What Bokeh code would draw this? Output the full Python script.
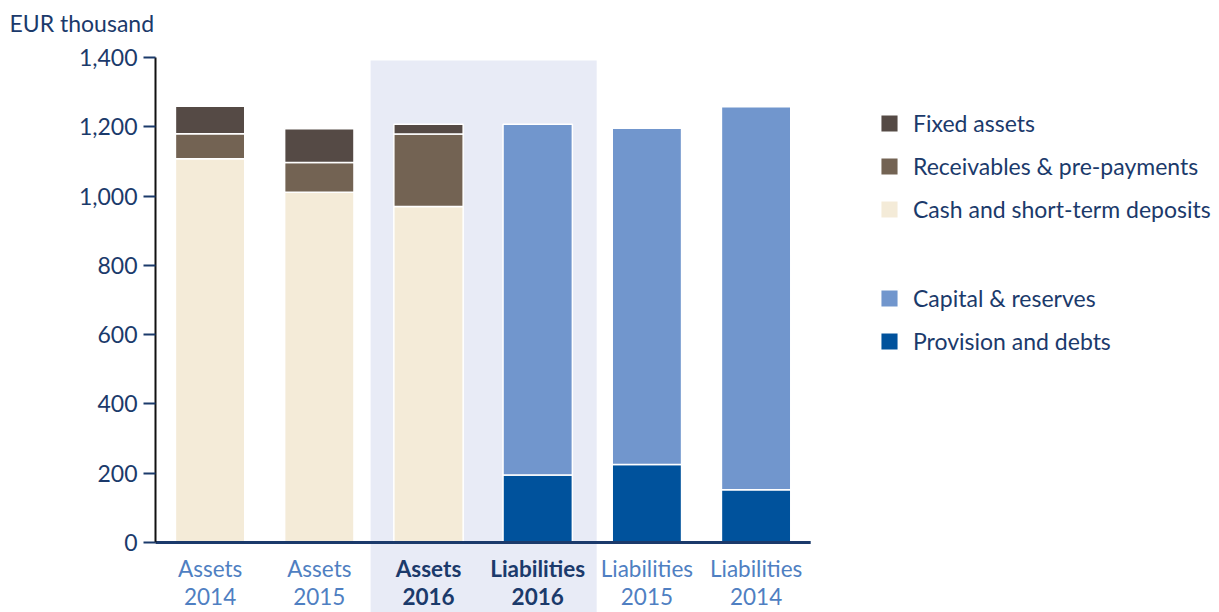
from bokeh.plotting import figure
from bokeh.models import (ColumnDataSource, LinearAxis, FixedTicker, BoxAnnotation,
                          Legend, LegendItem, Label, NumeralTickFormatter, Range1d)
from bokeh.embed import file_html
from bokeh.resources import INLINE
from bokeh.core.properties import value

# ---- data ----
groups = ["Assets", "Assets", "Assets", "Liabilities", "Liabilities", "Liabilities"]
years = ["2014", "2015", "2016", "2016", "2015", "2014"]
highlight = [False, False, True, True, False, False]

asset_pos = [0, 1, 2]
cash = [1108, 1011, 970]
receivables = [72, 86, 209]
fixed_assets = [79, 97, 28]

liab_pos = [3, 4, 5]
provision = [195, 225, 152]
capital = [1012, 971, 1106]

y_ticks = [0, 200, 400, 600, 800, 1000, 1200, 1400]

# ---- styling ----
NAVY = "#1b3a6b"
LIGHTBLUE = "#4f7fc2"
C_FIXED = "#554a45"
C_RECV = "#736353"
C_CASH = "#f4ebd8"
C_CAP = "#7196cd"
C_PROV = "#00529c"
BAND = "#e8ebf6"
FONT = "Lato"

W, H = 1219, 612
left_px, cat_px = 155.0, 109.2
zero_px, unit_px = 542.0, 485.0 / 1400.0

x_range = Range1d(-left_px / cat_px, (W - left_px) / cat_px)
y_range = Range1d(-(H - zero_px) / unit_px, zero_px / unit_px)

p = figure(width=W, height=H, x_range=x_range, y_range=y_range,
           x_axis_type=None, y_axis_type=None, output_backend="svg",
           toolbar_location=None, min_border=0, min_border_left=0,
           min_border_right=0, min_border_top=0, min_border_bottom=0)
p.outline_line_color = None
p.grid.visible = False
p.background_fill_color = "white"
p.border_fill_color = "white"

# highlight band
band = BoxAnnotation(left=1.97, right=4.04, top=1391, fill_color=BAND, fill_alpha=1,
                     line_color=None, level="underlay")
p.add_layout(band)

# bars
asrc = ColumnDataSource(dict(x=[i + 0.5 for i in asset_pos], cash=cash,
                             recv=receivables, fixed=fixed_assets))
lsrc = ColumnDataSource(dict(x=[i + 0.5 for i in liab_pos], prov=provision, cap=capital))

ar = p.vbar_stack(["cash", "recv", "fixed"], x="x", width=0.635, source=asrc,
                  color=[C_CASH, C_RECV, C_FIXED], line_color="white", line_width=1.5)
lr = p.vbar_stack(["prov", "cap"], x="x", width=0.635, source=lsrc,
                  color=[C_PROV, C_CAP], line_color="white", line_width=1.5)

# horizontal axis line
p.segment(x0=[0], y0=[0], x1=[6], y1=[0], line_color=NAVY, line_width=3)

# y axis
yaxis = LinearAxis(fixed_location=0, bounds=(0, 1400))
yaxis.ticker = FixedTicker(ticks=y_ticks)
yaxis.formatter = NumeralTickFormatter(format="0,0")
yaxis.axis_line_color = "#111111"
yaxis.axis_line_width = 2
yaxis.major_tick_line_color = NAVY
yaxis.major_tick_line_width = 2
yaxis.major_tick_out = 12
yaxis.major_tick_in = 0
yaxis.minor_tick_line_color = None
yaxis.major_label_text_color = NAVY
yaxis.major_label_text_font = FONT
yaxis.major_label_text_font_size = "23px"
yaxis.major_label_standoff = 6
p.add_layout(yaxis, "left")

# category labels
xs = [i + 0.5 for i in range(len(groups))]
colors = [NAVY if h else LIGHTBLUE for h in highlight]
styles = ["bold" if h else "normal" for h in highlight]
tsrc = ColumnDataSource(dict(x=xs, g=groups, yr=years, c=colors, s=styles))
p.text(x="x", y=-(568 - zero_px) / unit_px, text="g", source=tsrc, text_color="c",
       text_font_style="s", text_font=value(FONT), text_font_size="22.5px",
       text_align="center", text_baseline="middle")
p.text(x="x", y=-(596 - zero_px) / unit_px, text="yr", source=tsrc, text_color="c",
       text_font_style="s", text_font=value(FONT), text_font_size="22.5px",
       text_align="center", text_baseline="middle")

# title
p.add_layout(Label(x=9, y=H - 22, x_units="screen", y_units="screen",
                   text="EUR thousand", text_color=NAVY, text_font=FONT,
                   text_font_size="23px", text_baseline="middle"))

# legends
def make_legend(items, loc):
    lg = Legend(items=items, location=loc, orientation="vertical")
    lg.glyph_width = 22
    lg.glyph_height = 22
    lg.label_height = 22
    lg.spacing = 15
    lg.padding = 0
    lg.margin = 0
    lg.label_standoff = 13
    lg.border_line_color = None
    lg.background_fill_alpha = 0
    lg.label_text_font = FONT
    lg.label_text_font_size = "23px"
    lg.label_text_color = NAVY
    return lg

leg1 = make_legend([LegendItem(label="Fixed assets", renderers=[ar[2]]),
                    LegendItem(label="Receivables & pre-payments", renderers=[ar[1]]),
                    LegendItem(label="Cash and short-term deposits", renderers=[ar[0]])],
                   (878, H - 223))
leg2 = make_legend([LegendItem(label="Capital & reserves", renderers=[lr[1]]),
                    LegendItem(label="Provision and debts", renderers=[lr[0]])],
                   (878, H - 355))
p.add_layout(leg1)
p.add_layout(leg2)

open("out.html", "w").write(file_html(p, INLINE))
